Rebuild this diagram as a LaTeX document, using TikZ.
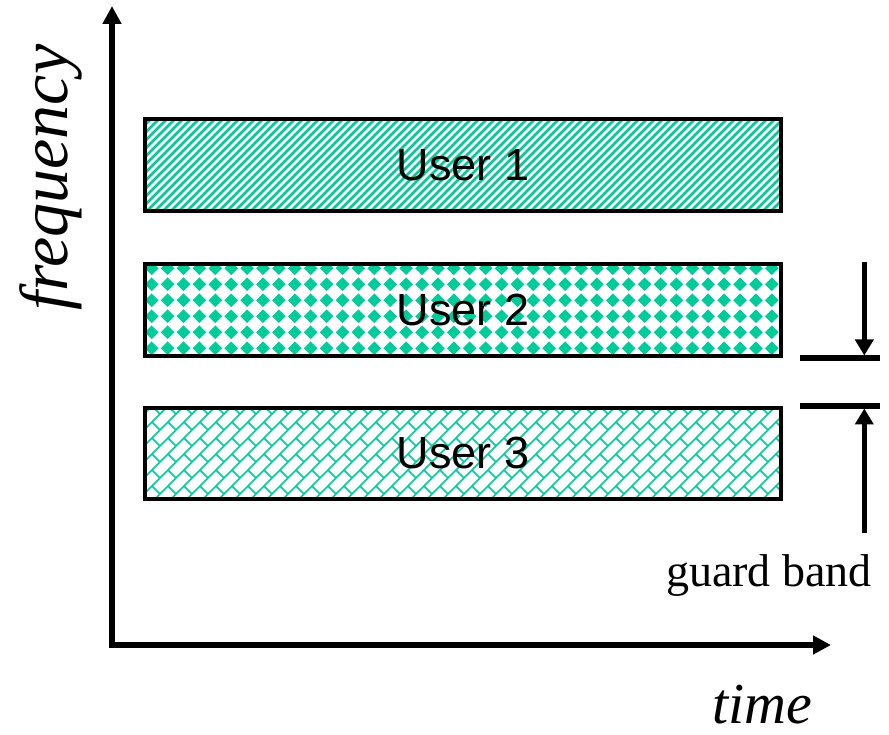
\documentclass[tikz,border=0pt]{standalone}
\usepackage{fontspec}
\setmainfont{Liberation Serif}
\newfontfamily\bandfont{Liberation Sans}
\usetikzlibrary{arrows.meta}
\definecolor{bandgreen}{RGB}{0,204,153}

\tikzset{
  band/.style={draw=black, line width=4pt, minimum width=636pt, minimum height=92pt,
    inner sep=0pt, font=\bandfont\fontsize{45}{54}\selectfont},
  axis/.style={line width=6pt, -{Triangle[length=18pt,width=18pt]}},
  guardline/.style={line width=5.5pt},
  guardarrow/.style={line width=5pt, -{Triangle[length=16pt,width=18pt]}},
  stripe/.style={bandgreen, line width=2.6pt},
  brick/.style={bandgreen, line width=1.6pt},
  axislabel/.style={font=\itshape, inner sep=0pt, anchor=base},
}

\begin{document}
\begin{tikzpicture}[x=1pt,y=1pt]
\useasboundingbox (0,0) rectangle (889,734);

% time and frequency axes
\coordinate (origin) at (112,89);
\coordinate (ftop) at (112,728);
\coordinate (tend) at (831,89);
\draw[axis] (112,86) -- (ftop);
\draw[axis] (109,89) -- (tend);

% user 1 fill: upward diagonal stripes
\begin{scope}
  \clip (145,523) rectangle (781,615);
  \foreach \c in {-288,-280,...,480}
    \draw[stripe] (100,100+\c) -- (800,800+\c);
\end{scope}

% user 2 fill: grid of diamonds
\begin{scope}
  \clip (145,378) rectangle (781,470);
  \foreach \i in {0,...,40}
    \foreach \j in {0,...,6}
      \fill[bandgreen] ({151.7+15.9*\i-6.8},{465.7-16*\j}) -- ++(6.8,6.8)
        -- ++(6.8,-6.8) -- ++(-6.8,-6.8) -- cycle;
\end{scope}

% user 3 fill: diagonal brick lattice
\begin{scope}
  \clip (145,235) rectangle (781,326);
  \foreach \k in {-40,...,15}
    \draw[brick] (100,{100+16*\k}) -- (800,{800+16*\k});
  \foreach \i in {8,...,50}
    \foreach \j in {14,...,21}
      \draw[brick] ({16*\i+8},{16*\j+8}) -- ({16*\i+16},{16*\j});
\end{scope}

% the three user bands
\node[band] (u1) at (463,569) {User 1};
\node[band] (u2) at (463,424) {User 2};
\node[band, minimum height=91pt] (u3) at (463,280.5) {User 3};

% guard band marker
\coordinate (gtl) at (800,376);
\coordinate (gtr) at (880,376);
\coordinate (gbl) at (800,328);
\coordinate (gbr) at (880,328);
\coordinate (dnfrom) at (864.3,472);
\coordinate (dnto) at (864.3,378.5);
\coordinate (upfrom) at (864.3,201);
\coordinate (upto) at (864.3,325.5);
\draw[guardline] (gtl) -- (gtr);
\draw[guardline] (gbl) -- (gbr);
\draw[guardarrow] (dnfrom) -- (dnto);
\draw[guardarrow] (upfrom) -- (upto);

\node[inner sep=0pt, anchor=base, font=\fontsize{46}{55}\selectfont] (guard) at (769,147) {guard band};

% axis labels
\node[axislabel, font=\itshape\fontsize{58}{70}\selectfont] (tlabel) at (762,11) {time};
\node[axislabel, rotate=90, font=\itshape\fontsize{68}{82}\selectfont] (flabel) at (67,556.5) {frequency};
\end{tikzpicture}
\end{document}
